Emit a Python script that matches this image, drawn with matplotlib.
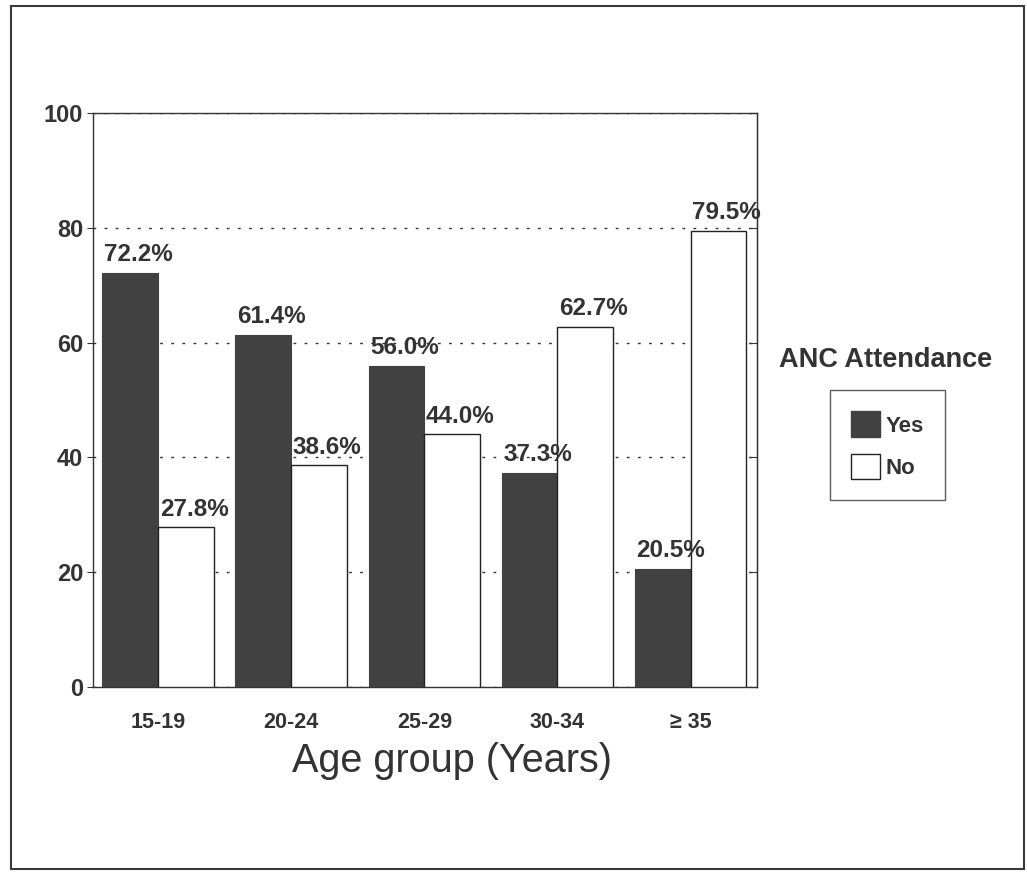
import numpy as np
import matplotlib.pyplot as plt
from matplotlib.patches import Rectangle, Patch

age_groups = ['15-19', '20-24', '25-29', '30-34', '\u2265 35']
anc_yes = [72.2, 61.4, 56.0, 37.3, 20.5]
anc_no = [27.8, 38.6, 44.0, 62.7, 79.5]
y_ticks = [0, 20, 40, 60, 80, 100]

plt.rcParams['font.family'] = ['Liberation Sans', 'DejaVu Sans']
ink = '#333333'
dark = '#414141'

fig = plt.figure(figsize=(10.27, 8.73), dpi=100)
ax = fig.add_axes([0.0906, 0.2131, 0.6466, 0.6575])

x = np.arange(len(age_groups))
w = 0.42
yes_bars = ax.bar(x - w / 2, anc_yes, w, color=dark, edgecolor=dark, linewidth=0.8, zorder=3)
no_bars = ax.bar(x + w / 2, anc_no, w, color='white', edgecolor='#222222', linewidth=1.0, zorder=3)

for bars, vals in ((yes_bars, anc_yes), (no_bars, anc_no)):
    for b, v in zip(bars, vals):
        ax.text(b.get_x() + b.get_width() / 2 + 0.06, v + 1.2, f'{v:.1f}%',
                ha='center', va='bottom', fontsize=17.5, fontweight='bold',
                color=ink, zorder=4)

ax.set_xlim(-0.49, 4.5)
ax.set_ylim(0, 100)
ax.set_yticks(y_ticks)
ax.set_xticks(x)
ax.set_xticklabels(age_groups, fontweight='bold')
ax.set_yticklabels([str(t) for t in y_ticks], fontweight='bold')
ax.tick_params(axis='x', length=0, pad=18, labelsize=15.5, labelcolor=ink)
ax.tick_params(axis='y', direction='out', length=4, pad=3, labelsize=17, labelcolor=ink, color=ink)
ax.yaxis.grid(True, linestyle=(0, (2, 6)), color='#333333', linewidth=1.0, zorder=0)
ax.set_axisbelow(True)
for s in ax.spines.values():
    s.set_color('#333333')
    s.set_linewidth(1.0)

right = ax.secondary_yaxis('right')
right.set_yticks(y_ticks)
right.tick_params(direction='in', length=6, labelright=False, color='#333333')

ax.set_xlabel('Age group (Years)', fontsize=28.5, color=ink)
ax.xaxis.set_label_coords(0.54, -0.096)

fig.text(0.862, 0.588, 'ANC Attendance', ha='center', va='center', fontsize=19.5,
         fontweight='bold', color=ink)
handles = [Patch(facecolor=dark, edgecolor=dark, label='Yes'),
           Patch(facecolor='white', edgecolor='#222222', label='No')]
leg = fig.legend(handles=handles, loc='upper left', bbox_to_anchor=(0.808, 0.553),
                 prop={'size': 16, 'weight': 'bold'}, frameon=True, fancybox=False,
                 edgecolor='#333333', handlelength=1.3, handleheight=1.4,
                 handletextpad=0.25, labelspacing=0.75, borderpad=0.95, borderaxespad=0)
leg.get_frame().set_linewidth(1.0)
for t in leg.get_texts():
    t.set_color(ink)

# page frame around the figure
fig.patches.append(Rectangle((0.011, 0.005), 0.986, 0.988, transform=fig.transFigure,
                             fill=False, edgecolor='#3a3a3a', linewidth=1.5))

fig.savefig('out.png', dpi=100)
